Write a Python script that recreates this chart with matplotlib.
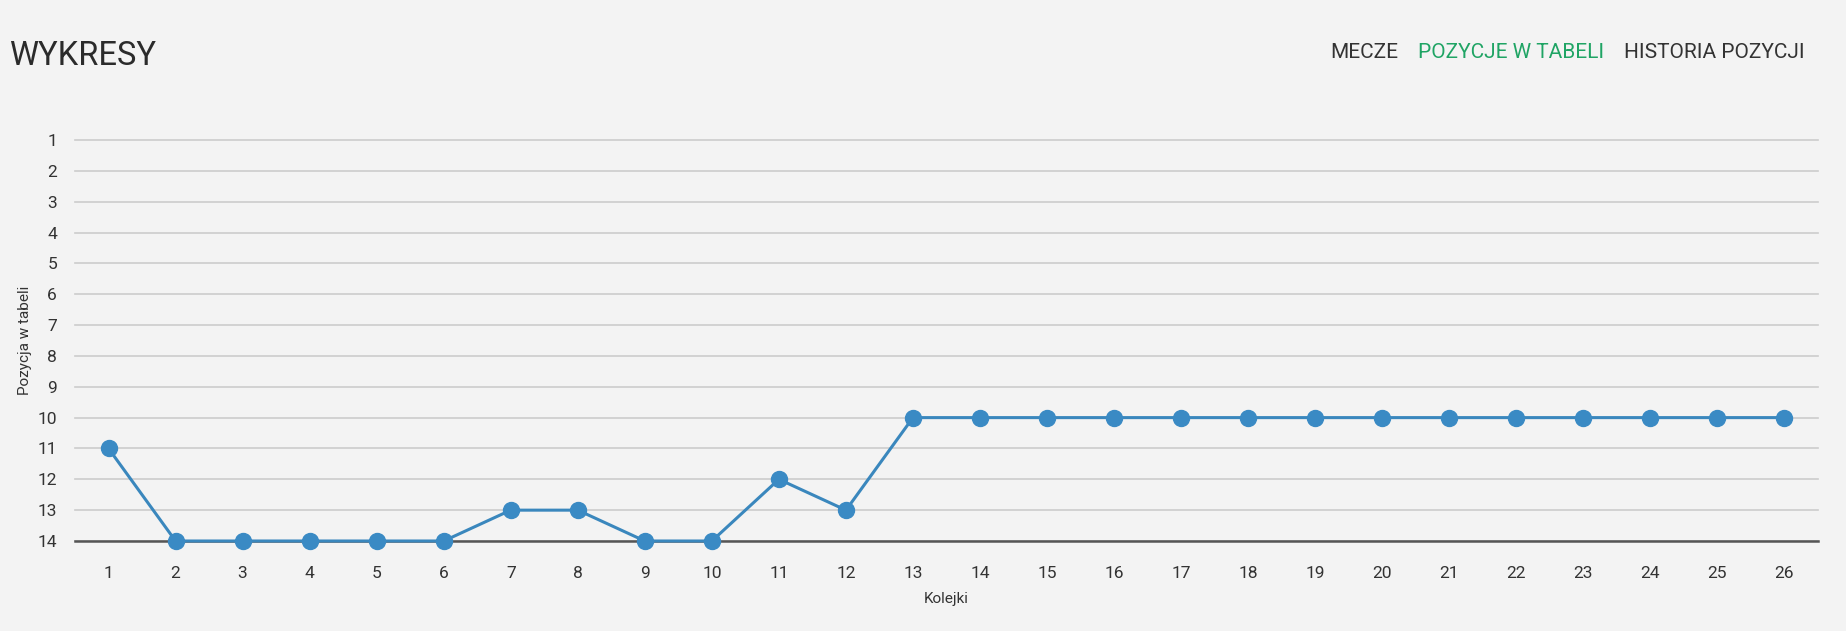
import matplotlib
matplotlib.use("Agg")
import matplotlib.pyplot as plt

rounds = list(range(1, 27))
positions = [11, 14, 14, 14, 14, 14, 13, 13, 14, 14, 12, 13, 10,
             10, 10, 10, 10, 10, 10, 10, 10, 10, 10, 10, 10, 10]
y_ticks = list(range(1, 15))
nav_items = ["MECZE", "POZYCJE W TABELI", "HISTORIA POZYCJI"]
nav_colors = ["#333333", "#1fa464", "#333333"]

plt.rcParams["font.family"] = ["Roboto", "DejaVu Sans"]

W, H = 1846, 631
bg = "#f3f3f3"
fig = plt.figure(figsize=(W / 100, H / 100), dpi=100, facecolor=bg)
ax = fig.add_axes([75 / W, 1 - 541 / H, (1818 - 75) / W, (541 - 140) / H])
ax.set_facecolor(bg)

ax.plot(rounds, positions, color="#3a87bd", lw=2.2, marker="o", ms=11.5,
        markerfacecolor="#3a8ac4", markeredgecolor="#3a8ac4", zorder=3, clip_on=False)

ax.set_xlim(0.5, 26.5)
ax.set_ylim(14, 1)
ax.set_yticks(y_ticks)
ax.set_xticks(rounds)
ax.grid(axis="y", color="#cccccc", lw=1.2)
for gl in ax.get_ygridlines():
    gl.set_clip_on(False)
ax.set_axisbelow(True)
for s in ["top", "right", "left"]:
    ax.spines[s].set_visible(False)
ax.spines["bottom"].set_color("#555555")
ax.spines["bottom"].set_linewidth(1.8)
ax.spines["bottom"].set_zorder(2)
ax.tick_params(axis="both", length=0, labelsize=12.5, colors="#333333")
ax.tick_params(axis="x", pad=18)
ax.tick_params(axis="y", pad=13)

ax.set_xlabel("Kolejki", fontsize=11, color="#333333", labelpad=8)
fig.text(25 / W, 1 - 340 / H, "Pozycja w tabeli", fontsize=11, color="#333333",
         rotation=90, va="center", ha="center")

fig.text(9 / W, 1 - 56 / H, "WYKRESY", fontsize=23.5, color="#2b2b2b",
         va="center", ha="left")

# nav items, laid out right to left from the right edge
renderer = fig.canvas.get_renderer()
x_right = 1805
for label, col in zip(nav_items[::-1], nav_colors[::-1]):
    t = fig.text(x_right / W, 1 - 53 / H, label, fontsize=15, color=col,
                 va="center", ha="right")
    w = t.get_window_extent(renderer).width
    x_right -= w + 20

fig.savefig("out.png", dpi=100, facecolor=bg)
